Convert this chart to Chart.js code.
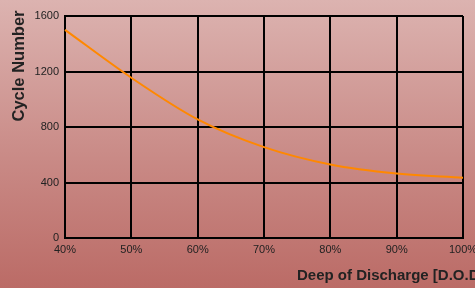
<!DOCTYPE html>
<html>
<head>
<meta charset="utf-8">
<script src="https://cdn.jsdelivr.net/npm/chart.js@4"></script>
<style>
  html, body { margin: 0; padding: 0; overflow: hidden; }
  body {
    width: 475px; height: 288px;
    background: linear-gradient(to bottom, #dcb3b0 0%, #c98a86 55%, #bb6b66 100%);
  }
  #wrap { position: relative; width: 475px; height: 288px; }
</style>
</head>
<body>
<div id="wrap"><canvas id="dod_chart"></canvas></div>
<script>
// depth of discharge vs cycle life
var dodLabels = ["40%", "50%", "60%", "70%", "80%", "90%", "100%"];
var cycleValues = [1500, 1155, 855, 655, 530, 465, 435];
var yTicks = [0, 400, 800, 1200, 1600];

var xTitle = "Deep of Discharge [D.O.D.]";
var yTitle = "Cycle Number";

// titles are drawn by hand, the original ones sit off-centre
var titlePlugin = {
  id: "titles",
  afterDraw: function (chart) {
    var ctx = chart.ctx;
    var area = chart.chartArea;
    ctx.save();
    ctx.fillStyle = "#222";
    ctx.font = "bold 15px 'Liberation Sans', Arial, sans-serif";
    ctx.textAlign = "left";
    ctx.textBaseline = "alphabetic";
    ctx.fillText(xTitle, area.left + 232, 280);

    ctx.font = "bold 16.5px 'Liberation Sans', Arial, sans-serif";
    ctx.translate(24, area.top + 50);
    ctx.rotate(-Math.PI / 2);
    ctx.textAlign = "center";
    ctx.fillText(yTitle, 0, 0);
    ctx.restore();
  }
};

var ctx = document.getElementById("dod_chart").getContext("2d");
var chart = new Chart(ctx, {
  type: "line",
  data: {
    labels: dodLabels,
    datasets: [{
      label: "Cycles",
      data: cycleValues,
      borderColor: "#ff8800",
      borderWidth: 2,
      fill: false,
      tension: 0.4,
      cubicInterpolationMode: "monotone",
      pointRadius: 0,
      pointHoverRadius: 0
    }]
  },
  options: {
    responsive: true,
    maintainAspectRatio: false,
    animation: false,
    layout: { padding: { top: 16, right: 0, left: 0, bottom: 0 } },
    plugins: {
      legend: { display: false },
      tooltip: { enabled: false }
    },
    scales: {
      x: {
        type: "category",
        offset: false,
        afterFit: function (scale) {
          scale.height = 50;
          scale.paddingRight = 12;
        },
        ticks: {
          color: "#222",
          padding: 5,
          maxRotation: 0,
          font: { size: 11, family: "'Liberation Sans', Arial, sans-serif" }
        },
        grid: {
          color: "#000",
          lineWidth: 2,
          drawTicks: false
        },
        border: { color: "#000", width: 2 }
      },
      y: {
        min: 0,
        max: 1600,
        afterFit: function (scale) { scale.width = 65; },
        afterBuildTicks: function (scale) {
          scale.ticks = yTicks.map(function (v) { return { value: v }; });
        },
        ticks: {
          color: "#222",
          padding: 6,
          callback: function (v) { return String(v); },
          font: { size: 11, family: "'Liberation Sans', Arial, sans-serif" }
        },
        grid: {
          color: "#000",
          lineWidth: 2,
          drawTicks: false
        },
        border: { color: "#000", width: 2 }
      }
    }
  },
  plugins: [titlePlugin]
});
</script>
</body>
</html>
